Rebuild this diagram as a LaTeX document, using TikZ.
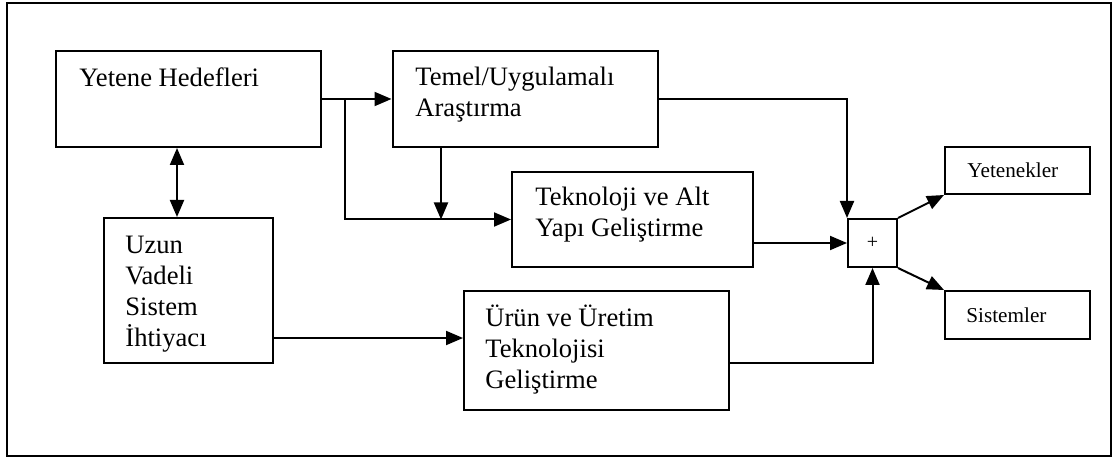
\documentclass[tikz,border=0pt]{standalone}
\usepackage{fontspec}
\setmainfont{Liberation Serif}
\usetikzlibrary{arrows.meta,calc}
\tikzset{
  box/.style={draw, line width=1pt, inner sep=0pt},
  txt/.style={font=\fontsize{13.3}{15.5}\selectfont, inner sep=0pt, align=left, anchor=base west},
  smalltxt/.style={font=\fontsize{10.6}{12}\selectfont, inner sep=0pt, anchor=base west},
  arr/.style={line width=1pt, -{Triangle[length=8.5pt,width=7pt]}},
  dblarr/.style={line width=1pt, {Triangle[length=8.5pt,width=7pt]}-{Triangle[length=8.5pt,width=7pt]}}
}
\begin{document}
\begin{tikzpicture}[x=0.5pt, y=-0.5pt]
\useasboundingbox (0,0) rectangle (1117,459);
\draw[line width=1pt] (7,3) rectangle (1111,456);

% boxes
\node[box, minimum width=132.5pt, minimum height=48pt] (yh) at (188.5,99) {};
\node[box, minimum width=132.5pt, minimum height=48pt] (tem) at (525,99) {};
\node[box, minimum width=120.5pt, minimum height=47.5pt] (tek) at (632.5,219.5) {};
\node[box, minimum width=84.5pt, minimum height=72.5pt] (uzun) at (188.5,290.5) {};
\node[box, minimum width=132.5pt, minimum height=59.5pt] (urun) at (596.5,350.5) {};
\node[box, minimum width=24.5pt, minimum height=24pt] (plus) at (872.5,243) {};
\node[box, minimum width=72.5pt, minimum height=23.5pt] (yet) at (1017.5,170.5) {};
\node[box, minimum width=72.5pt, minimum height=24pt] (sis) at (1017.5,315) {};

% texts (anchored at the baseline of the last line)
\node[txt] (yhT) at (79,87) {Yetene Hedefleri};
\node[txt] (temT) at (415,117) {Temel/Uygulamalı\\Araştırma};
\node[txt] (tekT) at (535,237) {Teknoloji ve Alt\\Yapı Geliştirme};
\node[txt] (uzunT) at (125,346) {Uzun\\Vadeli\\Sistem\\İhtiyacı};
\node[txt] (urunT) at (485,388) {Ürün ve Üretim\\Teknolojisi\\Geliştirme};
\node[font=\fontsize{10}{12}\selectfont, inner sep=0pt] (plusT) at (plus) {+};
\node[smalltxt] (yetT) at (967,178) {Yetenekler};
\node[smalltxt] (sisT) at (966,322) {Sistemler};

% connectors
\coordinate (br) at ($(yh.east)+(23,0)$);
\coordinate (tdown) at ($(tem.south)+(-84,0)$);
\coordinate (uin) at ($(urun.west)+(0,-12.5)$);
\coordinate (uout) at ($(urun.east)+(0,12.5)$);
\draw[arr] (yh.east) -- (tem.west);
\draw[arr] (br) |- (tek.west);
\draw[arr] (tdown) -- (tdown |- tek.west);
\draw[dblarr] ($(yh.south)+(-11.5,0)$) -- ($(uzun.north)+(-11.5,0)$);
\draw[arr] (uzun.east |- uin) -- (uin);
\draw[arr] (tem.east) -| (plus.north west);
\draw[arr] (tek.east |- plus.west) -- (plus.west);
\draw[arr] (uout) -| (plus.south);
\draw[arr] (plus.north east) -- (yet.south west);
\draw[arr] (plus.south east) -- (sis.north west);
\end{tikzpicture}
\end{document}
